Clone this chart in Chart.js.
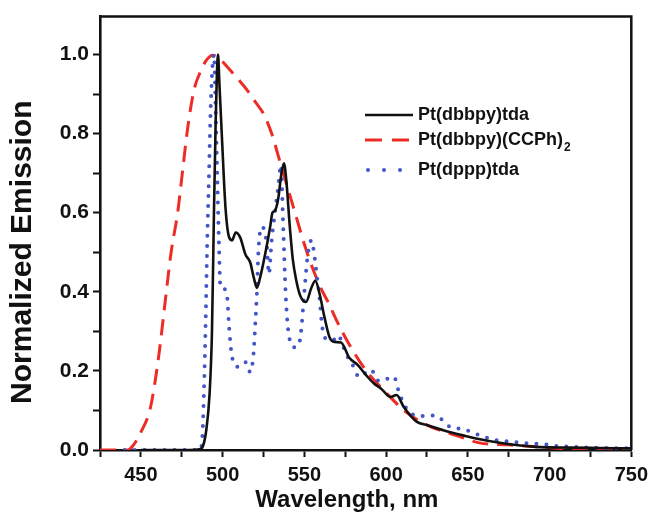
<!DOCTYPE html>
<html>
<head>
<meta charset="utf-8">
<script src="https://cdn.jsdelivr.net/npm/chart.js@4"></script>
<style>
  html, body { margin: 0; padding: 0; background: #fff; }
</style>
</head>
<body>
<canvas id="chart" width="654" height="514"></canvas>
<script>
// Pt(dbbpy)tda - solid black
const dbbpyTdaNm = [450, 470, 480, 486, 488, 490, 492, 493.5, 494.7, 495.7, 496.5, 497.2, 498,
  499.7, 501.8, 503.8, 505.8, 508, 510.8, 513.9, 516.9, 519, 521, 523, 526, 529, 530.5, 532,
  534, 536, 537.5, 539, 541, 543, 545, 547.5, 551, 554.3, 556.7, 559.3, 562.3, 565.4, 568.4,
  572.4, 577.5, 582.6, 587.6, 592.6, 597, 602.7, 606.4, 610.8, 618.9, 625, 635, 647, 655,
  671.5, 691.7, 712, 730, 750];
const dbbpyTdaVal = [0, 0, 0, 0.002, 0.01, 0.05, 0.14, 0.3, 0.6, 0.82, 0.95, 1.0, 0.93,
  0.78, 0.61, 0.54, 0.53, 0.55, 0.537, 0.495, 0.474, 0.437, 0.41, 0.437, 0.495, 0.562, 0.6, 0.605,
  0.635, 0.7, 0.725, 0.68, 0.57, 0.48, 0.43, 0.39, 0.374, 0.41, 0.428, 0.395, 0.336, 0.285, 0.273,
  0.272, 0.233, 0.215, 0.19, 0.168, 0.155, 0.134, 0.139, 0.109, 0.071, 0.063, 0.05, 0.037, 0.029,
  0.017, 0.008, 0.006, 0.005, 0.004];

// Pt(dbbpy)(CCPh)2 - red dashed
const ccphNm = [425, 442, 445, 450, 456, 461, 465, 468.5, 472.5, 475.5, 478.5, 482.5, 486.5,
  490, 494, 498, 504, 510, 515, 520, 525, 530, 535, 540, 545, 550, 555, 560, 565, 570,
  577, 587, 600, 611, 625, 645, 657, 675, 692, 712, 750];
const ccphVal = [0, 0, 0.01, 0.045, 0.11, 0.24, 0.38, 0.5, 0.6, 0.705, 0.81, 0.91, 0.957,
  0.985, 0.998, 0.99, 0.963, 0.935, 0.91, 0.88, 0.85, 0.8, 0.73, 0.66, 0.59, 0.52, 0.46, 0.41, 0.37, 0.325,
  0.27, 0.205, 0.145, 0.1, 0.063, 0.034, 0.018, 0.013, 0.008, 0.003, 0.002];

// Pt(dppp)tda - blue dotted
const dpppNm = [440, 486, 487.5, 488.6, 489.6, 490.6, 491.7, 492.7, 494.7, 495.8, 496.7, 497.7,
  498.7, 500.8, 502.8, 503.8, 505.8, 509.8, 513.9, 516.9, 518.9, 520, 521, 522, 524, 527, 528.3,
  530, 532, 534, 535.6, 537.1, 538.5, 540.2, 544, 546.5, 548, 550, 552, 554.3, 556.3, 557.5,
  559.3, 560.5, 562.3, 567.4, 570.5, 575.5, 579.5, 583.5, 590.6, 595.7, 604.8, 607.8, 611.8,
  620, 630, 639, 648, 658, 667, 676.5, 686, 696, 705, 715, 725, 750];
const dpppVal = [0, 0, 0.025, 0.15, 0.32, 0.53, 0.7, 0.865, 1.0, 0.85, 0.7, 0.53,
  0.41, 0.407, 0.386, 0.32, 0.235, 0.21, 0.222, 0.197, 0.243, 0.32, 0.4, 0.51, 0.565, 0.52, 0.445,
  0.53, 0.6, 0.665, 0.72, 0.56, 0.4, 0.3, 0.26, 0.265, 0.3, 0.4, 0.49, 0.53, 0.487, 0.445,
  0.386, 0.327, 0.285, 0.277, 0.29, 0.243, 0.215, 0.185, 0.203, 0.174, 0.185, 0.147, 0.109,
  0.086, 0.087, 0.059, 0.052, 0.036, 0.025, 0.021, 0.017, 0.015, 0.01, 0.008, 0.006, 0.004];

const seriesNames = ['Pt(dbbpy)tda', 'Pt(dbbpy)(CCPh)', 'Pt(dppp)tda'];
const xTickValues = [425, 450, 475, 500, 525, 550, 575, 600, 625, 650, 675, 700, 725, 750];
const yTickValues = [0, 0.1, 0.2, 0.3, 0.4, 0.5, 0.6, 0.7, 0.8, 0.9, 1.0];
const xTitle = 'Wavelength, nm';
const yTitle = 'Normalized Emission';

const FONT = '"Liberation Sans", Arial, sans-serif';
const INK = '#111';
const RED = '#ee2c26';
const BLUE = '#4356c6';

function pairs(xs, ys) {
  return xs.map((x, i) => ({ x: x, y: ys[i] }));
}

// box frame, axis titles and the in-plot legend
const decorPlugin = {
  id: 'decor',
  afterDraw(chart) {
    const ctx = chart.ctx;
    const a = chart.chartArea;
    const xs = chart.scales.x, ys = chart.scales.y;
    ctx.save();
    ctx.strokeStyle = INK;
    ctx.lineWidth = 2.5;
    ctx.beginPath();
    ctx.moveTo(a.left, a.top);
    ctx.lineTo(a.right, a.top);
    ctx.lineTo(a.right, a.bottom);
    ctx.stroke();

    // axis titles
    ctx.fillStyle = INK;
    ctx.textAlign = 'center';
    ctx.textBaseline = 'middle';
    ctx.font = 'bold 24px ' + FONT;
    ctx.fillText(xTitle, xs.getPixelForValue(576), 500);
    ctx.save();
    ctx.translate(23, ys.getPixelForValue(0.5));
    ctx.rotate(-Math.PI / 2);
    ctx.font = 'bold 30px ' + FONT;
    ctx.fillText(yTitle, 0, 0);
    ctx.restore();

    // legend
    const lx = 365, tx = 418;
    const rows = [115, 140, 170];
    ctx.textAlign = 'left';
    ctx.font = 'bold 18px ' + FONT;
    chart.data.datasets.forEach((ds, i) => {
      const y = rows[i];
      ctx.save();
      ctx.strokeStyle = ds.borderColor;
      ctx.lineWidth = ds.borderWidth;
      ctx.lineCap = ds.borderCapStyle || 'butt';
      if (i === 1) ctx.setLineDash([17, 10]);
      if (i === 2) ctx.setLineDash([0, 16]);
      ctx.beginPath();
      ctx.moveTo(i === 2 ? lx + 3 : lx, y);
      ctx.lineTo(413, y);
      ctx.stroke();
      ctx.restore();
      ctx.fillText(seriesNames[i], tx, y);
      if (i === 1) {
        const w = ctx.measureText(seriesNames[i]).width;
        ctx.save();
        ctx.font = 'bold 12px ' + FONT;
        ctx.fillText('2', tx + w + 1, y + 8);
        ctx.restore();
      }
    });
    ctx.restore();
  }
};

new Chart(document.getElementById('chart').getContext('2d'), {
  type: 'line',
  data: {
    datasets: [
      {
        label: seriesNames[0],
        data: pairs(dbbpyTdaNm, dbbpyTdaVal),
        borderColor: INK,
        borderWidth: 2.6,
        order: 0
      },
      {
        label: seriesNames[1] + '2',
        data: pairs(ccphNm, ccphVal),
        borderColor: RED,
        borderWidth: 3,
        borderDash: [16, 9],
        order: 2
      },
      {
        label: seriesNames[2],
        data: pairs(dpppNm, dpppVal),
        borderColor: BLUE,
        borderWidth: 4,
        borderDash: [0, 10],
        borderCapStyle: 'round',
        order: 1
      }
    ]
  },
  options: {
    responsive: false,
    animation: false,
    devicePixelRatio: 1,
    layout: { padding: { top: 15, right: 19, left: 0, bottom: 0 } },
    elements: {
      point: { radius: 0 },
      line: { cubicInterpolationMode: 'monotone', fill: false }
    },
    plugins: {
      legend: { display: false },
      tooltip: { enabled: false }
    },
    scales: {
      x: {
        type: 'linear',
        min: 425,
        max: 750,
        afterFit: s => { s.height = 64; },
        afterBuildTicks: s => { s.ticks = xTickValues.map(v => ({ value: v })); },
        border: { color: INK, width: 2.6 },
        grid: { drawOnChartArea: false, tickLength: 7, tickColor: INK, tickWidth: 2 },
        ticks: {
          color: INK,
          padding: 6,
          maxRotation: 0,
          autoSkip: false,
          font: { family: FONT, size: 20, weight: 'bold' },
          callback: v => (v % 50 === 0 ? String(v) : '')
        }
      },
      y: {
        min: 0,
        max: 1.0957,
        afterFit: s => { s.width = 100; },
        afterBuildTicks: s => { s.ticks = yTickValues.map(v => ({ value: v })); },
        border: { color: INK, width: 2.6 },
        grid: { drawOnChartArea: false, tickLength: 7, tickColor: INK, tickWidth: 2 },
        ticks: {
          color: INK,
          padding: 4,
          autoSkip: false,
          font: { family: FONT, size: 21, weight: 'bold' },
          callback: v => (Math.round(v * 10) % 2 === 0 ? v.toFixed(1) : '')
        }
      }
    }
  },
  plugins: [decorPlugin]
});
</script>
</body>
</html>
